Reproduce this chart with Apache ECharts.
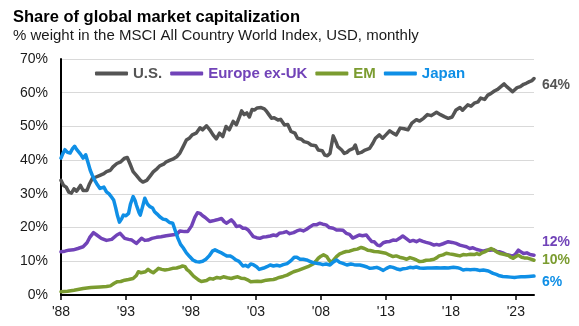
<!DOCTYPE html>
<html>
<head>
<meta charset="utf-8">
<script src="https://cdn.jsdelivr.net/npm/echarts@6/dist/echarts.min.js"></script>
<style>
  html, body { margin: 0; padding: 0; background: #ffffff; }
  #chart { width: 579px; height: 326px; }
</style>
</head>
<body>
<div id="chart"></div>
<script>
// Share of MSCI ACWI market capitalization, % weight, [decimal year, share]
const usShare = [
  [1988.0, 34.0], [1988.2, 32.5], [1988.4, 32.0], [1988.6, 30.5], [1988.8, 30.2],
  [1989.0, 31.5], [1989.2, 30.8], [1989.5, 32.5], [1989.7, 31.0], [1990.0, 31.0],
  [1990.2, 33.0], [1990.4, 34.5], [1990.7, 35.0], [1991.0, 35.5], [1991.3, 36.0],
  [1991.5, 36.6], [1991.8, 37.0], [1992.0, 38.0], [1992.3, 39.0], [1992.6, 39.5],
  [1992.9, 40.6], [1993.1, 40.8], [1993.3, 39.0], [1993.55, 36.6], [1993.8, 35.5],
  [1994.1, 34.1], [1994.3, 33.5], [1994.6, 34.0], [1994.9, 35.5], [1995.1, 36.5],
  [1995.4, 37.5], [1995.6, 38.3], [1995.9, 38.8], [1996.1, 39.5], [1996.4, 40.0],
  [1996.6, 40.3], [1996.9, 41.0], [1997.15, 42.1], [1997.4, 44.0], [1997.65, 46.0],
  [1997.9, 46.6], [1998.1, 47.5], [1998.4, 48.0], [1998.7, 49.6], [1998.9, 49.0],
  [1999.2, 50.2], [1999.45, 49.0], [1999.7, 47.5], [1999.95, 46.3], [2000.2, 48.0],
  [2000.45, 47.0], [2000.7, 50.0], [2000.95, 49.0], [2001.25, 51.5], [2001.5, 50.5],
  [2001.75, 53.0], [2001.9, 54.6], [2002.1, 53.5], [2002.3, 54.0], [2002.5, 52.8],
  [2002.7, 55.0], [2002.9, 54.9], [2003.1, 55.5], [2003.4, 55.6], [2003.65, 55.2],
  [2003.8, 54.6], [2004.0, 53.5], [2004.2, 52.4], [2004.4, 52.6], [2004.7, 51.9],
  [2004.9, 52.1], [2005.2, 50.4], [2005.45, 50.6], [2005.7, 48.5], [2006.0, 48.0],
  [2006.2, 46.5], [2006.5, 46.2], [2006.7, 45.5], [2007.0, 45.2], [2007.25, 44.5],
  [2007.6, 44.3], [2007.8, 43.0], [2008.1, 42.8], [2008.3, 41.5], [2008.5, 41.3],
  [2008.7, 42.0], [2008.95, 47.2], [2009.15, 45.5], [2009.3, 44.0], [2009.6, 43.0],
  [2009.8, 42.0], [2010.0, 42.3], [2010.2, 43.0], [2010.5, 43.5], [2010.65, 44.5],
  [2010.85, 42.0], [2011.1, 42.3], [2011.4, 43.0], [2011.75, 43.5], [2012.0, 45.0],
  [2012.2, 46.5], [2012.5, 47.5], [2012.75, 46.5], [2013.0, 47.5], [2013.3, 48.7],
  [2013.55, 48.0], [2013.8, 47.5], [2014.1, 49.5], [2014.4, 49.3], [2014.7, 49.0],
  [2015.0, 51.0], [2015.35, 52.0], [2015.6, 51.6], [2015.9, 52.4], [2016.2, 53.5],
  [2016.5, 53.2], [2016.9, 54.2], [2017.2, 53.5], [2017.5, 52.9], [2017.8, 52.4],
  [2018.1, 52.8], [2018.4, 54.9], [2018.7, 55.6], [2018.9, 54.8], [2019.3, 56.4],
  [2019.55, 56.0], [2019.8, 56.9], [2020.1, 57.3], [2020.3, 58.4], [2020.6, 58.0],
  [2020.85, 59.3], [2021.1, 59.8], [2021.35, 60.5], [2021.6, 61.0], [2021.85, 61.8],
  [2022.1, 62.6], [2022.3, 61.8], [2022.55, 61.0], [2022.75, 60.3], [2022.9, 60.6],
  [2023.1, 61.5], [2023.35, 61.8], [2023.6, 62.5], [2023.8, 62.8], [2024.05, 63.3],
  [2024.25, 63.6], [2024.4, 64.2]
];

const europeShare = [
  [1988.0, 12.8], [1988.3, 13.0], [1988.6, 13.3], [1988.95, 13.4], [1989.3, 13.8],
  [1989.7, 14.3], [1990.0, 15.5], [1990.2, 17.0], [1990.5, 18.5], [1990.75, 17.8],
  [1991.1, 16.8], [1991.5, 16.2], [1991.9, 16.5], [1992.3, 17.8], [1992.55, 18.3],
  [1992.9, 16.8], [1993.2, 16.5], [1993.45, 16.3], [1993.8, 15.3], [1994.2, 16.8],
  [1994.45, 16.2], [1994.7, 16.3], [1995.0, 16.8], [1995.35, 17.1], [1995.7, 17.3],
  [1996.1, 17.6], [1996.5, 17.8], [1996.9, 18.0], [1997.15, 19.0], [1997.5, 18.8],
  [1997.75, 18.8], [1998.05, 20.5], [1998.3, 23.0], [1998.5, 24.4], [1998.7, 24.2],
  [1998.9, 23.5], [1999.1, 23.0], [1999.45, 21.8], [1999.7, 22.0], [2000.0, 22.3],
  [2000.35, 22.7], [2000.55, 21.8], [2000.75, 21.3], [2001.1, 22.3], [2001.3, 21.5],
  [2001.5, 20.3], [2001.75, 20.5], [2002.0, 19.8], [2002.2, 19.8], [2002.4, 19.3],
  [2002.6, 18.3], [2002.8, 17.3], [2003.05, 17.0], [2003.3, 16.8], [2003.55, 17.2],
  [2003.8, 17.3], [2004.1, 17.5], [2004.35, 17.8], [2004.6, 17.6], [2004.8, 18.3],
  [2005.1, 18.5], [2005.35, 18.8], [2005.6, 18.2], [2005.9, 18.5], [2006.15, 19.0],
  [2006.4, 19.3], [2006.65, 19.0], [2006.9, 19.5], [2007.15, 20.2], [2007.4, 20.8],
  [2007.65, 20.8], [2007.9, 21.3], [2008.15, 21.0], [2008.4, 20.8], [2008.65, 20.0],
  [2008.95, 19.8], [2009.2, 19.3], [2009.45, 19.3], [2009.7, 19.2], [2009.95, 18.3],
  [2010.2, 18.0], [2010.45, 16.9], [2010.7, 17.3], [2010.95, 17.8], [2011.2, 17.6],
  [2011.5, 17.8], [2011.7, 16.8], [2011.9, 15.9], [2012.1, 15.8], [2012.35, 14.8],
  [2012.55, 14.6], [2012.8, 15.5], [2013.05, 15.8], [2013.3, 15.9], [2013.55, 16.3],
  [2013.8, 16.2], [2014.05, 16.8], [2014.3, 17.5], [2014.55, 16.8], [2014.85, 15.9],
  [2015.1, 16.2], [2015.35, 15.8], [2015.6, 16.3], [2015.85, 15.9], [2016.1, 15.6],
  [2016.4, 15.3], [2016.7, 14.8], [2016.9, 15.0], [2017.1, 14.8], [2017.4, 15.2],
  [2017.8, 15.8], [2018.1, 15.6], [2018.4, 15.3], [2018.7, 14.8], [2019.0, 14.5],
  [2019.2, 14.3], [2019.45, 13.8], [2019.7, 14.0], [2020.0, 13.5], [2020.2, 13.3],
  [2020.5, 13.0], [2020.75, 13.3], [2021.0, 13.3], [2021.3, 13.4], [2021.55, 12.9],
  [2021.77, 12.8], [2022.0, 12.5], [2022.25, 12.0], [2022.5, 11.8], [2022.75, 11.5],
  [2022.95, 12.0], [2023.2, 13.3], [2023.4, 12.8], [2023.6, 12.3], [2023.85, 12.5],
  [2024.1, 12.0], [2024.4, 11.8]
];

const emShare = [
  [1988.0, 1.0], [1988.5, 1.1], [1989.0, 1.4], [1989.7, 1.9], [1990.3, 2.2],
  [1991.0, 2.4], [1991.5, 2.5], [1991.8, 2.7], [1992.1, 3.5], [1992.3, 3.9],
  [1992.6, 4.0], [1992.9, 4.4], [1993.2, 4.6], [1993.55, 4.9], [1993.8, 5.8],
  [1993.95, 6.9], [1994.15, 6.6], [1994.3, 6.4], [1994.5, 6.9], [1994.7, 7.6],
  [1994.9, 7.0], [1995.1, 6.6], [1995.3, 7.2], [1995.5, 7.9], [1995.75, 7.6],
  [1996.0, 7.4], [1996.3, 7.6], [1996.6, 7.9], [1996.9, 8.0], [1997.15, 8.3],
  [1997.35, 8.6], [1997.55, 8.4], [1997.7, 7.5], [1997.9, 6.9], [1998.05, 6.4],
  [1998.2, 5.6], [1998.4, 5.0], [1998.6, 4.4], [1998.8, 4.0], [1998.95, 3.9],
  [1999.2, 4.3], [1999.45, 4.9], [1999.7, 4.7], [2000.0, 5.2], [2000.25, 5.0],
  [2000.5, 5.4], [2000.8, 5.1], [2001.1, 4.9], [2001.35, 5.2], [2001.6, 5.4],
  [2001.85, 5.0], [2002.1, 4.9], [2002.35, 4.5], [2002.6, 3.9], [2002.85, 4.0],
  [2003.1, 4.1], [2003.4, 4.0], [2003.8, 4.4], [2004.1, 4.5], [2004.35, 4.6],
  [2004.6, 4.9], [2004.8, 5.2], [2005.1, 5.5], [2005.4, 5.9], [2005.65, 6.4],
  [2005.9, 6.9], [2006.3, 7.4], [2006.65, 7.9], [2007.0, 8.4], [2007.4, 9.2],
  [2007.6, 10.0], [2007.8, 10.9], [2008.0, 11.5], [2008.2, 11.9], [2008.45, 11.4],
  [2008.6, 10.5], [2008.8, 9.6], [2008.95, 9.8], [2009.2, 11.4], [2009.45, 12.2],
  [2009.7, 12.6], [2009.95, 12.9], [2010.2, 13.0], [2010.5, 13.4], [2010.8, 13.6],
  [2011.1, 14.1], [2011.35, 13.8], [2011.6, 13.3], [2011.8, 13.2], [2012.1, 12.9],
  [2012.4, 12.8], [2012.7, 12.6], [2013.0, 12.4], [2013.3, 11.8], [2013.55, 11.4],
  [2013.8, 11.6], [2014.05, 11.2], [2014.3, 11.0], [2014.6, 10.6], [2014.85, 11.1],
  [2015.1, 10.8], [2015.35, 10.4], [2015.6, 9.9], [2015.85, 10.0], [2016.1, 10.3],
  [2016.4, 10.4], [2016.7, 10.6], [2016.9, 11.0], [2017.1, 11.6], [2017.4, 11.9],
  [2017.65, 12.4], [2017.9, 12.2], [2018.2, 12.0], [2018.45, 11.8], [2018.7, 11.6],
  [2018.95, 12.0], [2019.2, 11.9], [2019.5, 12.1], [2019.8, 12.0], [2020.0, 12.3],
  [2020.2, 12.0], [2020.4, 12.5], [2020.6, 12.8], [2020.85, 13.3], [2021.1, 13.8],
  [2021.3, 13.4], [2021.55, 12.7], [2021.8, 12.3], [2022.05, 12.1], [2022.4, 11.8],
  [2022.6, 11.2], [2022.8, 10.9], [2023.0, 11.4], [2023.2, 11.8], [2023.45, 11.2],
  [2023.65, 11.0], [2023.85, 11.0], [2024.1, 10.7], [2024.4, 10.3]
];

const japanShare = [
  [1988.0, 40.6], [1988.15, 42.0], [1988.3, 43.1], [1988.5, 42.3], [1988.7, 42.1],
  [1988.9, 43.5], [1989.05, 44.1], [1989.2, 43.2], [1989.35, 43.0], [1989.5, 41.8],
  [1989.7, 40.6], [1989.9, 41.6], [1990.1, 39.0], [1990.25, 37.0], [1990.4, 35.6],
  [1990.6, 34.0], [1990.75, 33.0], [1991.0, 31.6], [1991.15, 31.2], [1991.3, 32.0],
  [1991.5, 30.6], [1991.7, 30.0], [1991.9, 29.0], [1992.05, 28.2], [1992.2, 26.0],
  [1992.35, 23.5], [1992.5, 21.6], [1992.65, 22.5], [1992.8, 23.7], [1993.0, 23.5],
  [1993.2, 24.2], [1993.35, 27.0], [1993.55, 29.2], [1993.7, 28.0], [1993.8, 26.7],
  [1994.0, 24.5], [1994.1, 23.7], [1994.3, 26.5], [1994.45, 28.7], [1994.65, 27.0],
  [1994.85, 26.2], [1995.05, 25.8], [1995.2, 24.7], [1995.4, 24.0], [1995.6, 23.2],
  [1995.85, 22.5], [1996.1, 22.3], [1996.35, 21.5], [1996.6, 21.3], [1996.8, 19.0],
  [1997.0, 16.8], [1997.2, 15.0], [1997.4, 14.0], [1997.65, 12.5], [1997.9, 11.4],
  [1998.15, 10.4], [1998.4, 9.9], [1998.65, 9.8], [1998.9, 10.0], [1999.15, 10.6],
  [1999.4, 11.6], [1999.65, 13.0], [1999.85, 13.4], [2000.05, 13.0], [2000.3, 12.6],
  [2000.55, 12.0], [2000.75, 11.6], [2001.0, 11.6], [2001.2, 11.2], [2001.45, 10.4],
  [2001.7, 10.0], [2002.0, 8.6], [2002.2, 8.8], [2002.4, 8.4], [2002.6, 9.2],
  [2002.8, 9.0], [2003.05, 8.4], [2003.25, 7.6], [2003.4, 7.4], [2003.6, 8.0],
  [2003.85, 8.4], [2004.1, 8.9], [2004.35, 8.6], [2004.6, 8.8], [2004.85, 8.6],
  [2005.1, 9.0], [2005.4, 9.3], [2005.7, 10.2], [2005.95, 11.2], [2006.15, 11.2],
  [2006.4, 10.6], [2006.65, 10.6], [2006.9, 10.4], [2007.15, 10.0], [2007.4, 9.6],
  [2007.65, 9.4], [2007.9, 9.3], [2008.15, 9.0], [2008.4, 9.2], [2008.7, 8.9],
  [2008.9, 9.6], [2009.2, 10.4], [2009.45, 9.7], [2009.7, 9.4], [2010.0, 8.9],
  [2010.3, 9.2], [2010.55, 9.0], [2010.75, 8.9], [2011.0, 8.9], [2011.3, 8.6],
  [2011.55, 8.3], [2011.77, 7.9], [2012.0, 8.0], [2012.3, 8.2], [2012.55, 7.8],
  [2012.8, 7.3], [2013.05, 7.9], [2013.3, 8.4], [2013.55, 8.2], [2013.8, 7.8],
  [2014.1, 7.5], [2014.35, 7.8], [2014.6, 7.9], [2014.85, 8.2], [2015.1, 8.1],
  [2015.35, 8.3], [2015.6, 8.0], [2015.9, 7.9], [2016.2, 8.0], [2016.5, 8.0],
  [2016.9, 8.1], [2017.2, 8.0], [2017.5, 8.1], [2017.8, 8.0], [2018.2, 8.2],
  [2018.5, 8.1], [2018.75, 7.8], [2018.95, 7.4], [2019.2, 7.6], [2019.5, 7.5],
  [2019.8, 7.6], [2020.0, 7.5], [2020.2, 7.3], [2020.5, 7.4], [2020.8, 7.2],
  [2021.0, 6.9], [2021.25, 6.4], [2021.5, 6.1], [2021.75, 5.7], [2022.0, 5.5],
  [2022.3, 5.4], [2022.6, 5.3], [2022.9, 5.2], [2023.1, 5.3], [2023.4, 5.4],
  [2023.7, 5.4], [2024.0, 5.5], [2024.4, 5.6]
];

const seriesNames = ['U.S.', 'Europe ex-UK', 'EM', 'Japan'];
const yearTicks = [1988, 1993, 1998, 2003, 2008, 2013, 2018, 2023];
const startYear = 1988;
const endYear = 2024.4;

const colors = {
  'U.S.': '#545454',
  'Europe ex-UK': '#7143B8',
  'EM': '#7B9C30',
  'Japan': '#0F8FE6'
};
// vertical nudges for the end-of-line value labels
const endLabelShift = { 'U.S.': 7, 'Europe ex-UK': -13, 'EM': 0, 'Japan': 6 };

const FONT = '"Liberation Sans", Arial, sans-serif';
const toAxis = pairs => pairs.map(([yr, v]) => [+(yr - startYear).toFixed(3), v]);
const tickOffsets = yearTicks.map(y => y - startYear);

function lineSeries(name, pairs) {
  return {
    name: name,
    type: 'line',
    data: toAxis(pairs),
    showSymbol: false,
    symbol: 'none',
    smooth: false,
    lineStyle: { width: 3.5, color: colors[name], cap: 'round', join: 'round' },
    itemStyle: { color: colors[name] },
    endLabel: {
      show: true,
      formatter: p => Math.round(p.value[1]) + '%',
      color: colors[name],
      fontFamily: FONT,
      fontWeight: 'bold',
      fontSize: 14,
      distance: 8,
      offset: [0, endLabelShift[name]]
    },
    emphasis: { disabled: true }
  };
}

const chart = echarts.init(document.getElementById('chart'), null, { renderer: 'canvas' });
chart.setOption({
  animation: false,
  backgroundColor: '#ffffff',
  title: [
    {
      text: 'Share of global market capitalization',
      left: 13, top: 9, padding: 0,
      textStyle: { fontFamily: FONT, fontSize: 16.5, fontWeight: 'bold', color: '#000000' }
    },
    {
      text: '% weight in the MSCI All Country World Index, USD, monthly',
      left: 13, top: 28, padding: 0,
      textStyle: { fontFamily: FONT, fontSize: 15, fontWeight: 'normal', color: '#1a1a1a' }
    }
  ],
  legend: {
    data: seriesNames.map(n => ({ name: n, textStyle: { color: colors[n] } })),
    left: 95, top: 66, padding: 0,
    icon: 'roundRect',
    itemWidth: 33, itemHeight: 4,
    itemGap: 8,
    textStyle: { fontFamily: FONT, fontSize: 15, fontWeight: 'bold' },
    selectedMode: false
  },
  grid: { left: 61, right: 45, top: 59, bottom: 31, containLabel: false },
  xAxis: {
    type: 'value',
    min: 0,
    max: +(endYear - startYear).toFixed(3),
    interval: 5,
    axisLine: { show: true, lineStyle: { color: '#000000', width: 2 } },
    axisTick: { show: true, length: 5, lineStyle: { color: '#000000', width: 1.5 }, customValues: tickOffsets },
    axisLabel: {
      customValues: tickOffsets,
      formatter: v => "'" + String((startYear + Math.round(v)) % 100).padStart(2, '0'),
      fontFamily: FONT, fontSize: 14, color: '#1a1a1a', margin: 10
    },
    splitLine: { show: false }
  },
  yAxis: {
    type: 'value',
    min: 0, max: 70, interval: 10,
    axisLine: { show: true, lineStyle: { color: '#000000', width: 2 } },
    axisTick: { show: false },
    axisLabel: {
      formatter: '{value}%',
      fontFamily: FONT, fontSize: 14, color: '#1a1a1a', margin: 13
    },
    splitLine: { show: true, lineStyle: { color: '#d9d9d9', width: 1 } }
  },
  series: [
    lineSeries('U.S.', usShare),
    lineSeries('Europe ex-UK', europeShare),
    lineSeries('EM', emShare),
    lineSeries('Japan', japanShare)
  ]
});
</script>
</body>
</html>
